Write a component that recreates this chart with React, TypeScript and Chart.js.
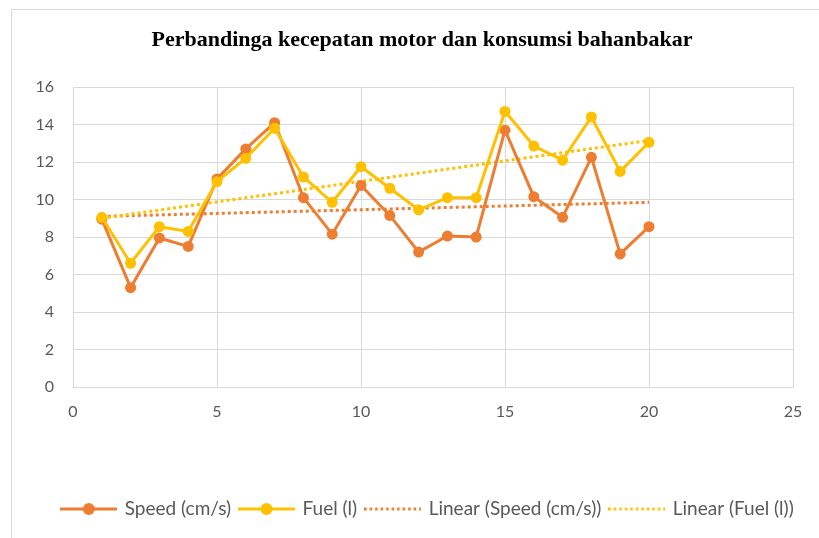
import React, { useEffect, useRef } from "react";
import { Chart, registerables } from "chart.js";

Chart.register(...registerables);

const TITLE = "Perbandinga kecepatan motor dan konsumsi bahanbakar";
const xValues = [1, 2, 3, 4, 5, 6, 7, 8, 9, 10, 11, 12, 13, 14, 15, 16, 17, 18, 19, 20];
const speed = [8.95, 5.3, 7.95, 7.5, 11.1, 12.7, 14.1, 10.1, 8.15, 10.75, 9.15, 7.2, 8.05, 8.0, 13.7, 10.15, 9.05, 12.25, 7.1, 8.55];
const fuel = [9.05, 6.6, 8.55, 8.3, 10.95, 12.2, 13.8, 11.2, 9.85, 11.75, 10.6, 9.45, 10.1, 10.1, 14.7, 12.85, 12.1, 14.4, 11.5, 13.05];
const trendX = [1, 20];
const speedTrend = [9.1, 9.85];
const fuelTrend = [9.0, 13.15];
const xTicks = [0, 5, 10, 15, 20, 25];
const yTicks = [0, 2, 4, 6, 8, 10, 12, 14, 16];
const labels = ["Speed (cm/s)", "Fuel (l)", "Linear (Speed (cm/s))", "Linear (Fuel (l))"];

const ORANGE = "#ED7D31";
const YELLOW = "#FFC000";
const GRID = "#D9D9D9";
const TEXT = "#595959";
const FONT = "Lato";

function legendIcon(color: string, dotted: boolean): HTMLCanvasElement {
  const c = document.createElement("canvas");
  c.width = 57;
  c.height = 14;
  const ctx = c.getContext("2d")!;
  ctx.strokeStyle = color;
  ctx.fillStyle = color;
  ctx.lineWidth = 3;
  if (dotted) {
    ctx.setLineDash([2.5, 3]);
    ctx.beginPath();
    ctx.moveTo(0, 7);
    ctx.lineTo(57, 7);
    ctx.stroke();
  } else {
    ctx.beginPath();
    ctx.moveTo(0, 7);
    ctx.lineTo(57, 7);
    ctx.stroke();
    ctx.beginPath();
    ctx.arc(28.5, 7, 6, 0, Math.PI * 2);
    ctx.fill();
  }
  return c;
}

export default function App() {
  const ref = useRef<HTMLCanvasElement | null>(null);
  useEffect(() => {
    if (!ref.current) return;
    const pts = (ys: number[], xs: number[]) => xs.map((x, i) => ({ x, y: ys[i] }));
    const icons = [legendIcon(ORANGE, false), legendIcon(YELLOW, false), legendIcon(ORANGE, true), legendIcon(YELLOW, true)];
    const frame = {
      id: "frame",
      beforeDraw(chart: any) {
        const ctx = chart.ctx;
        ctx.save();
        ctx.fillStyle = "#fff";
        ctx.fillRect(0, 0, chart.width, chart.height);
        ctx.strokeStyle = GRID;
        ctx.lineWidth = 1;
        ctx.beginPath();
        ctx.moveTo(11.5, 538);
        ctx.lineTo(11.5, 9.5);
        ctx.lineTo(819, 9.5);
        ctx.stroke();
        ctx.fillStyle = "#000";
        ctx.font = "bold 22px 'Liberation Serif'";
        ctx.textAlign = "center";
        ctx.textBaseline = "alphabetic";
        ctx.fillText(TITLE, 422, 46);
        ctx.restore();
      },
      afterLayout(chart: any) {
        if (chart.legend) {
          chart.legend.left += 26;
          chart.legend.right += 26;
        }
      },
    };
    const chart = new Chart(ref.current, {
      type: "line",
      data: {
        datasets: [
          {
            label: labels[0],
            data: pts(speed, xValues),
            borderColor: ORANGE,
            backgroundColor: ORANGE,
            borderWidth: 3,
            pointRadius: 5.5,
            pointBorderWidth: 0,
            pointStyle: "circle",
            order: 2,
          },
          {
            label: labels[1],
            data: pts(fuel, xValues),
            borderColor: YELLOW,
            backgroundColor: YELLOW,
            borderWidth: 3,
            pointRadius: 5.5,
            pointBorderWidth: 0,
            order: 1,
          },
          {
            label: labels[2],
            data: pts(speedTrend, trendX),
            borderColor: ORANGE,
            backgroundColor: ORANGE,
            borderWidth: 3,
            borderDash: [3, 3],
            pointRadius: 0,
            order: 4,
          },
          {
            label: labels[3],
            data: pts(fuelTrend, trendX),
            borderColor: YELLOW,
            backgroundColor: YELLOW,
            borderWidth: 3,
            borderDash: [3, 3],
            pointRadius: 0,
            order: 3,
          },
        ],
      },
      options: {
        responsive: false,
        animation: false,
        layout: { padding: { left: 11, right: 26, top: 87, bottom: 9.5 } },
        plugins: {
          title: { display: false },
          tooltip: { enabled: false },
          legend: {
            position: "bottom",
            labels: {
              usePointStyle: true,
              pointStyleWidth: 53,
              color: TEXT,
              font: { family: FONT, size: 19 },
              padding: 9,
              sort: (a: any, b: any) => a.datasetIndex - b.datasetIndex,
              generateLabels: (ch: any) =>
                ch.data.datasets.map((d: any, i: number) => ({
                  text: d.label,
                  fillStyle: d.borderColor,
                  strokeStyle: d.borderColor,
                  lineWidth: 0,
                  pointStyle: icons[i],
                  datasetIndex: i,
                  hidden: false,
                  fontColor: TEXT,
                })),
            },
          },
        },
        scales: {
          x: {
            type: "linear",
            min: 0,
            max: 25,
            afterBuildTicks: (s: any) => {
              s.ticks = xTicks.map((v) => ({ value: v }));
            },
            afterFit: (s: any) => {
              s.height = 103.5;
              s.paddingLeft = 0;
              s.paddingRight = 0;
            },
            grid: { color: GRID, lineWidth: 1, drawTicks: false },
            border: { color: GRID, width: 1 },
            ticks: { color: TEXT, font: { family: FONT, size: 16 }, padding: 15.5 },
          },
          y: {
            min: 0,
            max: 16,
            afterBuildTicks: (s: any) => {
              s.ticks = yTicks.map((v) => ({ value: v }));
            },
            afterFit: (s: any) => {
              s.width = 62;
            },
            grid: { color: GRID, lineWidth: 1, drawTicks: false },
            border: { color: GRID, width: 1 },
            ticks: { color: TEXT, font: { family: FONT, size: 16 }, padding: 19 },
          },
        },
      },
      plugins: [frame],
    } as any);
    return () => chart.destroy();
  }, []);
  return (
    <div style={{ position: "absolute", left: 0, top: 0, width: 819, height: 538 }}>
      <canvas ref={ref} width={819} height={538} />
    </div>
  );
}
